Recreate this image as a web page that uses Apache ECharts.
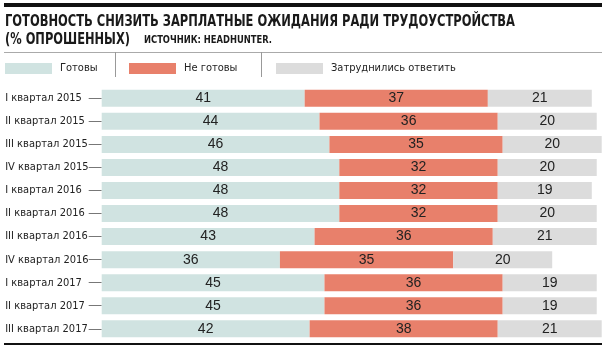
<!DOCTYPE html>
<html>
<head>
<meta charset="utf-8">
<script src="https://cdn.jsdelivr.net/npm/echarts@6/dist/echarts.min.js"></script>
<style>
  html, body { margin: 0; padding: 0; background: #fff; }
  #chart { width: 609px; height: 351px; }
</style>
</head>
<body>
<div id="chart"></div>
<script>
const quarters = [
  'I квартал 2015', 'II квартал 2015', 'III квартал 2015', 'IV квартал 2015',
  'I квартал 2016', 'II квартал 2016', 'III квартал 2016', 'IV квартал 2016',
  'I квартал 2017', 'II квартал 2017', 'III квартал 2017'
]
const ready = [41, 44, 46, 48, 48, 48, 43, 36, 45, 45, 42]
const notReady = [37, 36, 35, 32, 32, 32, 36, 35, 36, 36, 38]
const undecided = [21, 20, 20, 20, 19, 20, 21, 20, 19, 19, 21]

const COND = '"DejaVu Sans Condensed", "Liberation Sans Narrow", sans-serif'
const COLORS = ['#d0e3e1', '#e8806b', '#dcdcdc']
const NAMES = ['Готовы', 'Не готовы', 'Затруднились ответить']

const TITLE = 'ГОТОВНОСТЬ СНИЗИТЬ ЗАРПЛАТНЫЕ ОЖИДАНИЯ РАДИ ТРУДОУСТРОЙСТВА'
const SUBTITLE = '(% ОПРОШЕННЫХ)'
const SOURCE = 'ИСТОЧНИК: HEADHUNTER.'

// the original uses a narrow newspaper font, so squeeze the text to its width
const ctx = document.createElement('canvas').getContext('2d')
const squeeze = (text, font, target) => {
  ctx.font = font
  return target / ctx.measureText(text).width
}

const titleFont = 'bold 16px ' + COND
const sourceFont = 'bold 10px ' + COND

const mkText = (text, x, y, font, target) => ({
  type: 'text',
  x, y,
  scaleX: squeeze(text, font, target),
  style: { text, x: 0, y: 0, font, fill: '#1a1a1a' }
})

const chart = echarts.init(document.getElementById('chart'))

const mkSeries = (name, data, color) => ({
  name,
  type: 'bar',
  stack: 'all',
  data,
  barWidth: 17,
  itemStyle: { color },
  label: {
    show: true,
    position: 'inside',
    color: '#222',
    fontFamily: 'Liberation Sans, Arial, sans-serif',
    fontSize: 14
  }
})

const mkLegend = (name, left) => ({
  data: [name],
  left,
  top: 63,
  itemWidth: 47,
  itemHeight: 11,
  icon: 'rect',
  padding: 0,
  textStyle: { fontFamily: COND, fontSize: 11, color: '#222', padding: [0, 0, 0, 3] }
})

chart.setOption({
  animation: false,
  legend: [
    mkLegend(NAMES[0], 5),
    mkLegend(NAMES[1], 129),
    mkLegend(NAMES[2], 276)
  ],
  graphic: [
    { type: 'rect', shape: { x: 4, y: 3, width: 598, height: 4 }, style: { fill: '#111' } },
    mkText(TITLE, 5, 13.5, titleFont, 510),
    mkText(SUBTITLE, 5, 31.5, titleFont, 125),
    mkText(SOURCE, 144, 35, sourceFont, 128),
    { type: 'line', shape: { x1: 4, y1: 52.5, x2: 602, y2: 52.5 }, style: { stroke: '#aaa', lineWidth: 1 } },
    { type: 'line', shape: { x1: 115.5, y1: 52, x2: 115.5, y2: 77 }, style: { stroke: '#999', lineWidth: 1 } },
    { type: 'line', shape: { x1: 261.5, y1: 52, x2: 261.5, y2: 77 }, style: { stroke: '#999', lineWidth: 1 } },
    { type: 'rect', shape: { x: 4, y: 343, width: 598, height: 2 }, style: { fill: '#111' } }
  ],
  grid: { left: 101.7, right: 7.3, top: 86.8, height: 253.5 },
  xAxis: {
    type: 'value',
    min: 0,
    max: 101,
    show: false
  },
  yAxis: {
    type: 'category',
    data: quarters,
    inverse: true,
    offset: 2.5,
    axisLine: { show: false },
    axisTick: { show: true, alignWithLabel: true, length: 13, lineStyle: { color: '#777' } },
    axisLabel: {
      align: 'left',
      margin: 94,
      fontFamily: COND,
      fontSize: 11,
      color: '#222'
    }
  },
  series: [
    mkSeries(NAMES[0], ready, COLORS[0]),
    mkSeries(NAMES[1], notReady, COLORS[1]),
    mkSeries(NAMES[2], undecided, COLORS[2])
  ]
})
</script>
</body>
</html>
